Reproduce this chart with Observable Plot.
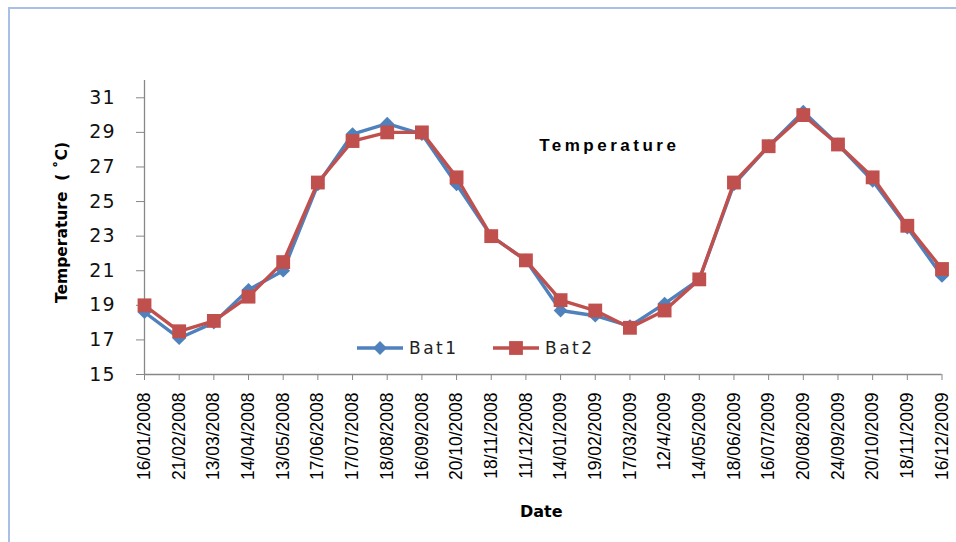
<!DOCTYPE html>
<html>
<head>
<meta charset="utf-8">
<script src="https://cdn.jsdelivr.net/npm/d3@7"></script>
<script src="https://cdn.jsdelivr.net/npm/@observablehq/plot@0.6"></script>
<style>
  html, body { margin: 0; padding: 0; background: #fff; }
  #wrap { position: relative; width: 956px; height: 542px; overflow: hidden; }
  #border { position: absolute; left: 8px; top: 7px; right: -6px; bottom: -6px;
            border-top: 2px solid #a9c0e6; border-left: 2px solid #a9c0e6; }
  #chart { position: absolute; left: 0; top: 0; }
  #legend { position: absolute; left: 350px; top: 335px; }
</style>
</head>
<body>
<div id="wrap">
  <div id="border"></div>
  <div id="chart"></div>
  <svg id="legend" width="260" height="26"></svg>
</div>
<script>
// Sampling dates (category axis)
const dates = [
  "16/01/2008", "21/02/2008", "13/03/2008", "14/04/2008", "13/05/2008", "17/06/2008",
  "17/07/2008", "18/08/2008", "16/09/2008", "20/10/2008", "18/11/2008", "11/12/2008",
  "14/01/2009", "19/02/2009", "17/03/2009", "12/4/2009", "14/05/2009", "18/06/2009",
  "16/07/2009", "20/08/2009", "24/09/2009", "20/10/2009", "18/11/2009", "16/12/2009"
];

// Temperature (°C) per building
const bat1 = [18.6, 17.1, 18.0, 19.9, 21.0, 26.0, 28.9, 29.5, 28.9, 26.0, 23.0, 21.6,
              18.7, 18.4, 17.8, 19.1, 20.5, 26.0, 28.2, 30.2, 28.3, 26.2, 23.5, 20.7];
const bat2 = [19.0, 17.5, 18.1, 19.5, 21.5, 26.1, 28.5, 29.0, 29.0, 26.4, 23.0, 21.6,
              19.3, 18.7, 17.7, 18.7, 20.5, 26.1, 28.2, 30.0, 28.3, 26.4, 23.6, 21.1];

const seriesNames = ["Bat1", "Bat2"];
const seriesColors = ["#4f81bd", "#c0504d"];
const yTicks = [15, 17, 19, 21, 23, 25, 27, 29, 31];

const rows1 = dates.map((d, i) => ({date: d, temp: bat1[i]}));
const rows2 = dates.map((d, i) => ({date: d, temp: bat2[i]}));

const axisGrey = "#878787";

const chart = Plot.plot({
  width: 956,
  height: 542,
  marginLeft: 144,
  marginRight: 14.5,
  marginTop: 80,
  marginBottom: 168,
  style: {fontFamily: "'Liberation Sans', Arial, sans-serif", fontSize: "17px", color: "#000", background: "transparent"},
  x: {type: "point", domain: dates, padding: 0, round: false, label: null},
  y: {domain: [15, 32], label: null},
  marks: [
    Plot.ruleY([15], {stroke: axisGrey, strokeWidth: 1.3}),
    Plot.ruleX([dates[0]], {stroke: axisGrey, strokeWidth: 1.3}),
    Plot.axisY({ticks: yTicks, tickSize: 8, tickPadding: 21, stroke: axisGrey, fill: "#111",
                fontFamily: "'DejaVu Sans', sans-serif", fontSize: 19, label: null}),
    Plot.axisX({tickRotate: -90, tickSize: 6, tickPadding: 12, stroke: axisGrey, fill: "#000",
                fontFamily: "'Liberation Sans', Arial, sans-serif", fontSize: 17.5, label: null}),
    Plot.line(rows1, {x: "date", y: "temp", stroke: seriesColors[0], strokeWidth: 3.4}),
    Plot.dot(rows1, {x: "date", y: "temp", symbol: "diamond2", r: 6.2, fill: seriesColors[0], stroke: "none"}),
    Plot.line(rows2, {x: "date", y: "temp", stroke: seriesColors[1], strokeWidth: 3.4}),
    Plot.dot(rows2, {x: "date", y: "temp", symbol: "square", r: 7.8, fill: seriesColors[1], stroke: "none"}),
    // chart title
    Plot.text(["Temperature"], {frameAnchor: "top", dx: 66, dy: 58, fontFamily: "'Liberation Sans', Arial, sans-serif",
                                fontSize: 17, fontWeight: "bold", fill: "#000"}),
    // axis titles
    Plot.text(["Date"], {frameAnchor: "bottom", dx: -2, dy: 142, fontFamily: "'DejaVu Sans', sans-serif",
                         fontSize: 16, fontWeight: "bold", fill: "#000"}),
    Plot.text(["Temperature\u00a0 (\u00a0\u02daC)"], {frameAnchor: "left", textAnchor: "middle", dx: -82, dy: -5, rotate: -90,
                         fontFamily: "'DejaVu Sans', sans-serif", fontSize: 15.5, fontWeight: "bold", fill: "#000"})
  ]
});

d3.select(chart).selectAll("text")
  .filter(function () { return this.textContent === "Temperature"; })
  .attr("letter-spacing", "3.5px");
d3.select(chart).selectAll('g[aria-label="y-axis tick label"] text')
  .attr("letter-spacing", "1px");

document.getElementById("chart").appendChild(chart);

// Legend: line + marker swatches for each series
const leg = d3.select("#legend");
const symbols = [d3.symbolDiamond2, d3.symbolSquare];
const symSizes = [Math.PI * 6.2 * 6.2, Math.PI * 7.8 * 7.8];
const offsets = [7, 143];
seriesNames.forEach((name, i) => {
  const g = leg.append("g").attr("transform", `translate(${offsets[i]},13)`);
  g.append("line").attr("x1", 0).attr("x2", 46).attr("y1", 0).attr("y2", 0)
    .attr("stroke", seriesColors[i]).attr("stroke-width", 3.4);
  g.append("path").attr("transform", "translate(23,0)")
    .attr("d", d3.symbol(symbols[i], symSizes[i])()).attr("fill", seriesColors[i]);
  g.append("text").attr("x", 52).attr("y", 0).attr("dy", "0.36em")
    .attr("font-family", "'DejaVu Sans', sans-serif").attr("font-size", 17)
    .attr("letter-spacing", "2.5px").attr("fill", "#222").text(name);
});
</script>
</body>
</html>
